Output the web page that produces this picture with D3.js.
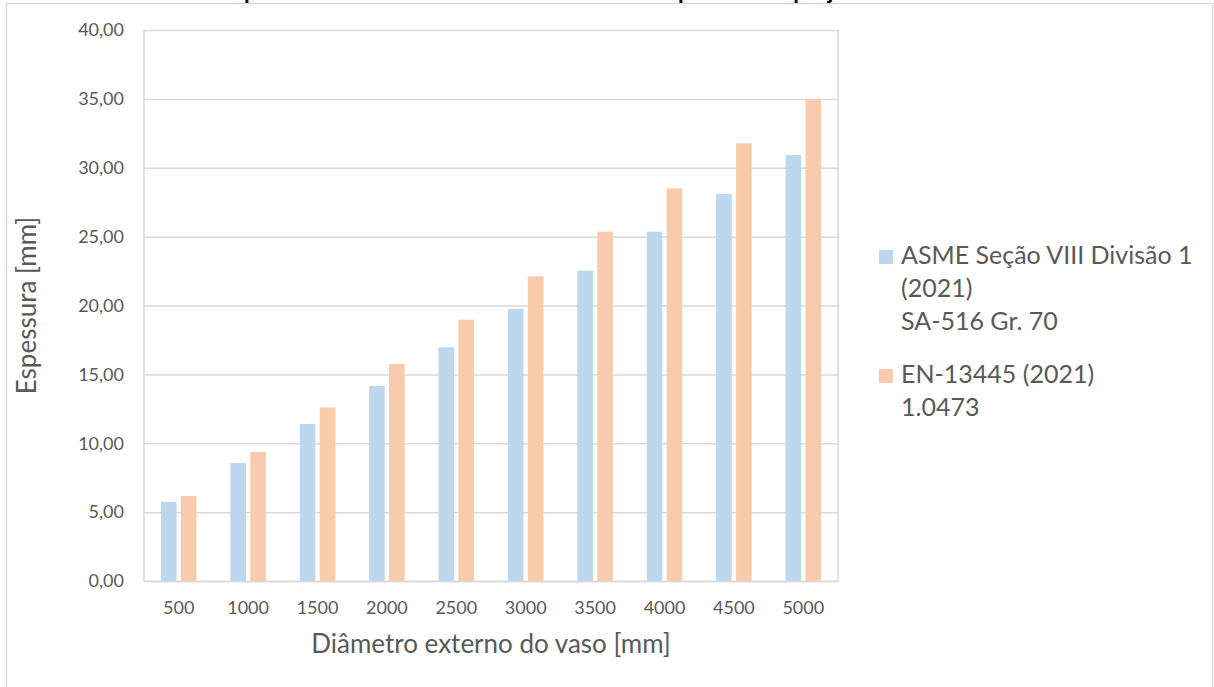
<!DOCTYPE html>
<html>
<head>
<meta charset="utf-8">
<script src="https://cdn.jsdelivr.net/npm/d3@7/dist/d3.min.js"></script>
<style>
  html, body { margin: 0; padding: 0; background: #ffffff; }
  svg { display: block; }
  text { font-family: Lato, "Open Sans", sans-serif; }
</style>
</head>
<body>
<svg id="chart" width="1214" height="687"></svg>
<script>
// Outer diameter of the vessel [mm]
const diameters = ["500", "1000", "1500", "2000", "2500", "3000", "3500", "4000", "4500", "5000"];

// Required wall thickness [mm] per code
const asmeThickness = [5.75, 8.57, 11.40, 14.16, 16.96, 19.75, 22.53, 25.36, 28.09, 30.93];
const enThickness   = [6.17, 9.36, 12.60, 15.75, 18.97, 22.12, 25.36, 28.51, 31.77, 34.97];

// Value-axis ticks
const yTicks = [0, 5, 10, 15, 20, 25, 30, 35, 40];

const seriesNames = ["asme", "en"];
const seriesColors = ["#bdd7ee", "#f8cbad"];
const legendEntries = [
  { key: "asme", lines: ["ASME Seção VIII Divisão 1", "(2021)", "SA-516 Gr. 70"] },
  { key: "en",   lines: ["EN-13445 (2021)", "1.0473"] }
];

const rows = diameters.map((d, i) => ({ d, asme: asmeThickness[i], en: enThickness[i] }));

const svg = d3.select("#chart");
const plot = { left: 144, right: 838, top: 30, bottom: 581 };
const textGrey = "#595959";
const lineGrey = "#d9d9d9";

// Chart frame
svg.append("rect")
  .attr("x", 6.5).attr("y", 3.5)
  .attr("width", 1206).attr("height", 700)
  .attr("fill", "#ffffff")
  .attr("stroke", lineGrey).attr("stroke-width", 1.5);

// Title (sits above the frame top)
const title = svg.append("text")
  .attr("y", -1)
  .attr("font-size", 23)
  .attr("font-weight", 700)
  .attr("fill", "#000000")
  .text("Comparativo entre as normas ASME e EN da espessura de projeto");
const titleNode = title.node();
const pIdx = title.text().indexOf("pessura");
const pOffset = titleNode.getSubStringLength(0, pIdx);
title.attr("x", 678 - pOffset);

// Scales
const x0 = d3.scaleBand().domain(diameters).range([plot.left, plot.right]).padding(0);
const bw = x0.bandwidth();
const x1 = d3.scaleBand().domain(seriesNames)
  .range([bw * 0.244, bw * 0.756]).paddingInner(0.216).paddingOuter(0);
const y = d3.scaleLinear().domain([0, 40]).range([plot.bottom, plot.top]);
const color = d3.scaleOrdinal().domain(seriesNames).range(seriesColors);

// Gridlines + left/right plot borders
const yAxis = d3.axisLeft(y).tickValues(yTicks)
  .tickSize(-(plot.right - plot.left))
  .tickPadding(20)
  .tickFormat(v => d3.format(".2f")(v).replace(".", ","));
const gy = svg.append("g").attr("transform", `translate(${plot.left},0)`).call(yAxis);
gy.select(".domain").remove();
gy.selectAll(".tick line").attr("stroke", lineGrey).attr("stroke-width", 1.5);
gy.selectAll(".tick text")
  .attr("fill", textGrey).attr("font-size", 18)
  .attr("font-family", "Lato, 'Open Sans', sans-serif");

svg.append("line")
  .attr("x1", plot.left).attr("x2", plot.left)
  .attr("y1", plot.top).attr("y2", plot.bottom)
  .attr("stroke", lineGrey).attr("stroke-width", 1.5);
svg.append("line")
  .attr("x1", plot.right).attr("x2", plot.right)
  .attr("y1", plot.top).attr("y2", plot.bottom)
  .attr("stroke", lineGrey).attr("stroke-width", 1.5);

// Bars
const groups = svg.append("g").selectAll("g")
  .data(rows).join("g")
  .attr("transform", r => `translate(${x0(r.d)},0)`);
groups.selectAll("rect")
  .data(r => seriesNames.map(k => ({ k, v: r[k] })))
  .join("rect")
  .attr("x", d => x1(d.k))
  .attr("width", x1.bandwidth())
  .attr("y", d => y(d.v))
  .attr("height", d => y(0) - y(d.v))
  .attr("fill", d => color(d.k));

// Category axis
const xAxis = d3.axisBottom(x0).tickSize(0).tickPadding(20);
const gx = svg.append("g").attr("transform", `translate(0,${plot.bottom})`).call(xAxis);
gx.select(".domain").attr("stroke", lineGrey).attr("stroke-width", 1.5);
gx.selectAll(".tick text")
  .attr("fill", textGrey).attr("font-size", 18)
  .attr("font-family", "Lato, 'Open Sans', sans-serif");

// Axis titles
svg.append("text")
  .attr("x", 491).attr("y", 653)
  .attr("text-anchor", "middle")
  .attr("font-size", 26).attr("fill", textGrey)
  .text("Diâmetro externo do vaso [mm]");
svg.append("text")
  .attr("transform", `translate(36,${(plot.top + plot.bottom) / 2}) rotate(-90)`)
  .attr("text-anchor", "middle")
  .attr("font-size", 26).attr("fill", textGrey)
  .text("Espessura [mm]");

// Legend
const legendX = 879;
const lineGap = 33;
const entryTop = [264, 383];
legendEntries.forEach((e, i) => {
  const g = svg.append("g");
  g.append("rect")
    .attr("x", legendX).attr("y", entryTop[i] - 14)
    .attr("width", 14).attr("height", 14)
    .attr("fill", color(e.key));
  e.lines.forEach((ln, j) => {
    g.append("text")
      .attr("x", legendX + 22).attr("y", entryTop[i] + j * lineGap)
      .attr("font-size", 25).attr("fill", textGrey)
      .text(ln);
  });
});
</script>
</body>
</html>
